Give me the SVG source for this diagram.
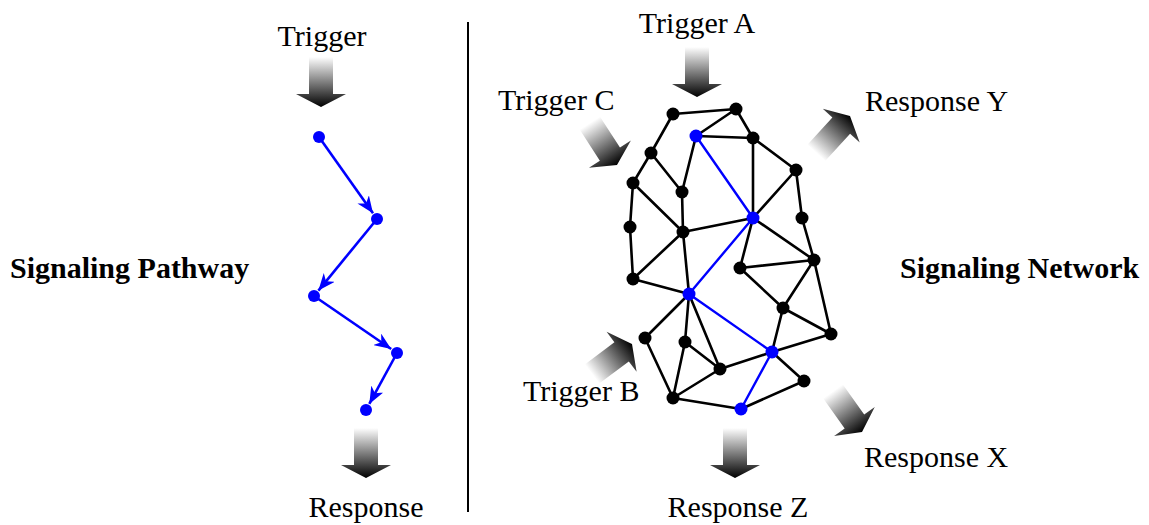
<svg xmlns="http://www.w3.org/2000/svg" width="1149" height="525" viewBox="0 0 1149 525">
<defs>
<style>
.lbl{font-family:"Liberation Serif","Times New Roman",serif;font-size:30px;fill:#000}
.ttl{font-family:"Liberation Serif","Times New Roman",serif;font-size:30px;font-weight:bold;fill:#000}
.e{stroke:#000;stroke-width:2.6;fill:none}
.eb{stroke:#0000ff;stroke-width:2.4;fill:none}
.n{fill:#000}
.nb{fill:#0000ff}
.pa{stroke:#0000ff;stroke-width:2.6;fill:none;marker-end:url(#ah)}
.ga{fill:url(#g)}
</style>
<linearGradient id="g" x1="0" y1="0" x2="0" y2="1">
<stop offset="0" stop-color="#ffffff"/>
<stop offset="1" stop-color="#000000"/>
</linearGradient>
<path id="ba" d="M-12,-50 L12,-50 L12,-13 L25,-13 L0,0 L-25,-13 L-12,-13 Z"/>
<marker id="ah" markerUnits="userSpaceOnUse" markerWidth="18" markerHeight="14" viewBox="0 0 18 14" refX="17" refY="7" orient="auto">
<path d="M0,0 L17,7 L0,14 L5,7 Z" fill="#0000ff"/>
</marker>
</defs>
<rect width="1149" height="525" fill="#fff"/>

<line x1="468" y1="22" x2="468" y2="512" stroke="#000" stroke-width="2"/>

<g id="labels">
<text class="ttl" x="10" y="278">Signaling Pathway</text>
<text class="ttl" x="900" y="278">Signaling Network</text>
<text class="lbl" x="322" y="46" text-anchor="middle">Trigger</text>
<text class="lbl" x="366" y="517" text-anchor="middle">Response</text>
<text class="lbl" x="697" y="33" text-anchor="middle">Trigger A</text>
<text class="lbl" x="498" y="110">Trigger C</text>
<text class="lbl" x="865" y="111">Response Y</text>
<text class="lbl" x="523" y="401">Trigger B</text>
<text class="lbl" x="864" y="467">Response X</text>
<text class="lbl" x="738" y="517" text-anchor="middle">Response Z</text>
</g>

<g id="big-arrows">
<use href="#ba" class="ga" transform="translate(321,107)"/>
<use href="#ba" class="ga" transform="translate(366,478)"/>
<use href="#ba" class="ga" transform="translate(697,97)"/>
<use href="#ba" class="ga" transform="translate(735,478)"/>
<use href="#ba" class="ga" transform="translate(617,165) rotate(-33)"/>
<use href="#ba" class="ga" transform="translate(850,116) rotate(-137.6)"/>
<use href="#ba" class="ga" transform="translate(632,344) rotate(-126.9)"/>
<use href="#ba" class="ga" transform="translate(862,432) rotate(-35.6)"/>
</g>

<g id="pathway-connectors">
<line class="pa" x1="319" y1="137" x2="373" y2="213.3"/>
<line class="pa" x1="377" y1="219" x2="318.4" y2="290.6"/>
<line class="pa" x1="314" y1="296" x2="391.2" y2="349"/>
<line class="pa" x1="397" y1="353" x2="369.3" y2="403.9"/>
</g>
<g id="pathway-nodes">
<circle id="p1" class="nb" cx="319" cy="137" r="6"/>
<circle id="p2" class="nb" cx="377" cy="219" r="6"/>
<circle id="p3" class="nb" cx="314" cy="296" r="6"/>
<circle id="p4" class="nb" cx="397" cy="353" r="6"/>
<circle id="p5" class="nb" cx="366" cy="410" r="6"/>
</g>

<g id="network-connectors">
<path class="e" d="M673,114L736,109 M736,109L696,136 M736,109L753,138 M696,136L753,138 M673,114L651,153 M651,153L633,183 M651,153L682,192 M696,136L682,192 M753,138L753,218 M753,138L796,170 M796,170L753,218 M796,170L802,218 M633,183L630,227 M633,183L683,232 M682,192L683,232 M683,232L753,218 M753,218L814,260 M753,218L740,268 M802,218L814,260 M683,232L633,279 M630,227L633,279 M683,232L689,294 M740,268L814,260 M740,268L783,308 M814,260L783,308 M814,260L831,334 M633,279L689,294 M689,294L645,338 M689,294L685,342 M689,294L720,369 M783,308L772,352 M783,308L831,334 M772,352L831,334 M772,352L720,369 M772,352L804,381 M645,338L673,398 M685,342L720,369 M685,342L673,398 M720,369L673,398 M673,398L741,409 M741,409L804,381"/>
<path class="eb" d="M696,136L753,218 M753,218L689,294 M689,294L772,352 M772,352L741,409"/>
</g>

<g id="network-nodes">
<circle id="n1" class="n" cx="673" cy="114" r="6.5"/>
<circle id="n2" class="n" cx="736" cy="109" r="6.5"/>
<circle id="n3" class="nb" cx="696" cy="136" r="6.5"/>
<circle id="n4" class="n" cx="753" cy="138" r="6.5"/>
<circle id="n5" class="n" cx="651" cy="153" r="6.5"/>
<circle id="n6" class="n" cx="796" cy="170" r="6.5"/>
<circle id="n7" class="n" cx="633" cy="183" r="6.5"/>
<circle id="n8" class="n" cx="682" cy="192" r="6.5"/>
<circle id="n9" class="nb" cx="753" cy="218" r="6.5"/>
<circle id="n10" class="n" cx="802" cy="218" r="6.5"/>
<circle id="n11" class="n" cx="630" cy="227" r="6.5"/>
<circle id="n12" class="n" cx="683" cy="232" r="6.5"/>
<circle id="n13" class="n" cx="740" cy="268" r="6.5"/>
<circle id="n14" class="n" cx="814" cy="260" r="6.5"/>
<circle id="n15" class="n" cx="633" cy="279" r="6.5"/>
<circle id="n16" class="nb" cx="689" cy="294" r="6.5"/>
<circle id="n17" class="n" cx="783" cy="308" r="6.5"/>
<circle id="n18" class="n" cx="831" cy="334" r="6.5"/>
<circle id="n19" class="n" cx="645" cy="338" r="6.5"/>
<circle id="n20" class="n" cx="685" cy="342" r="6.5"/>
<circle id="n21" class="nb" cx="772" cy="352" r="6.5"/>
<circle id="n22" class="n" cx="720" cy="369" r="6.5"/>
<circle id="n23" class="n" cx="804" cy="381" r="6.5"/>
<circle id="n24" class="n" cx="673" cy="398" r="6.5"/>
<circle id="n25" class="nb" cx="741" cy="409" r="6.5"/>
</g>
</svg>
